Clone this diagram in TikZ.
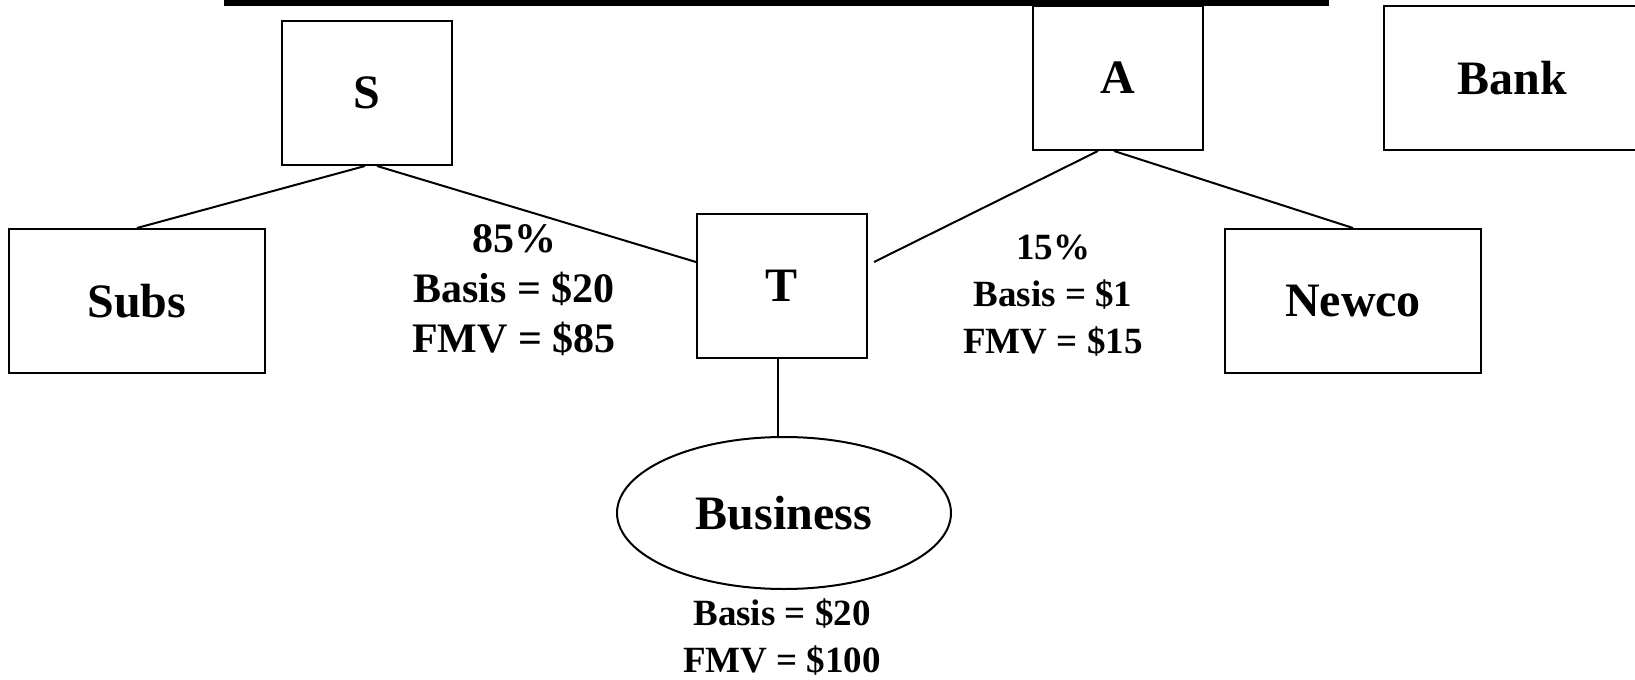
\documentclass[tikz,border=0pt]{standalone}
\usepackage{fontspec}
\setmainfont{Liberation Serif}
\usetikzlibrary{positioning,shapes.geometric}
\tikzset{
  entity/.style={draw, line width=1pt, inner sep=0pt,
                 font=\fontsize{24}{28}\selectfont\bfseries},
  corp/.style  ={entity, rectangle},
  wide/.style  ={corp, minimum width=128pt, minimum height=72pt},
  narrow/.style={corp, minimum width=85pt, minimum height=72pt},
  asset/.style ={entity, ellipse, minimum width=167pt, minimum height=76pt},
  link/.style  ={draw, line width=1pt},
  bignote/.style ={align=center, inner sep=0pt, font=\fontsize{21}{25}\selectfont\bfseries},
  smallnote/.style={align=center, inner sep=0pt, font=\fontsize{18.5}{23.5}\selectfont\bfseries},
}
\begin{document}
\begin{tikzpicture}[x=0.5pt, y=-0.5pt]
\useasboundingbox (0,0) rectangle (1635,680);
\clip (0,0) rectangle (1635,680);

% title rule (text above it is cut off)
\draw[line width=3pt] (224,3) -- (1329,3);

% ============================================ shareholders
\node[narrow] (S)    at (367,93)   {S};
\node[narrow] (A)    at (1118,78)  {A};
\node[wide]   (Bank) at (1512,78)  {Bank};

% ============================================ companies
\node[wide]   (Subs)  at (137,301)  {Subs};
\node[narrow] (T)     at (782,286)  {T};
\node[wide]   (Newco) at (1353,301) {Newco};
\node[asset]  (Biz)   at (784,513)  {Business};

% ============================================ ownership lines
\draw[link] ([xshift=-1pt]S.south) -- (Subs.north);
\draw[link] ([xshift=5pt]S.south) -- ([yshift=12pt]T.west);
\draw[link] ([xshift=-10pt]A.south) -- ([xshift=3pt,yshift=12pt]T.east);
\draw[link] ([xshift=-2pt]A.south) -- (Newco.north);
\draw[link] ([xshift=-2pt]T.south) -- ([xshift=-3pt]Biz.north);

% ============================================ holdings
\node[bignote]   (Sshare) at (514,290) {85\%\\Basis = \$20\\FMV = \$85};
\node[smallnote] (Ashare) at (1053,296) {15\%\\Basis = \$1\\FMV = \$15};
\node[smallnote] (Bizval) at (782,637) {Basis = \$20\\FMV = \$100};

\end{tikzpicture}
\end{document}
